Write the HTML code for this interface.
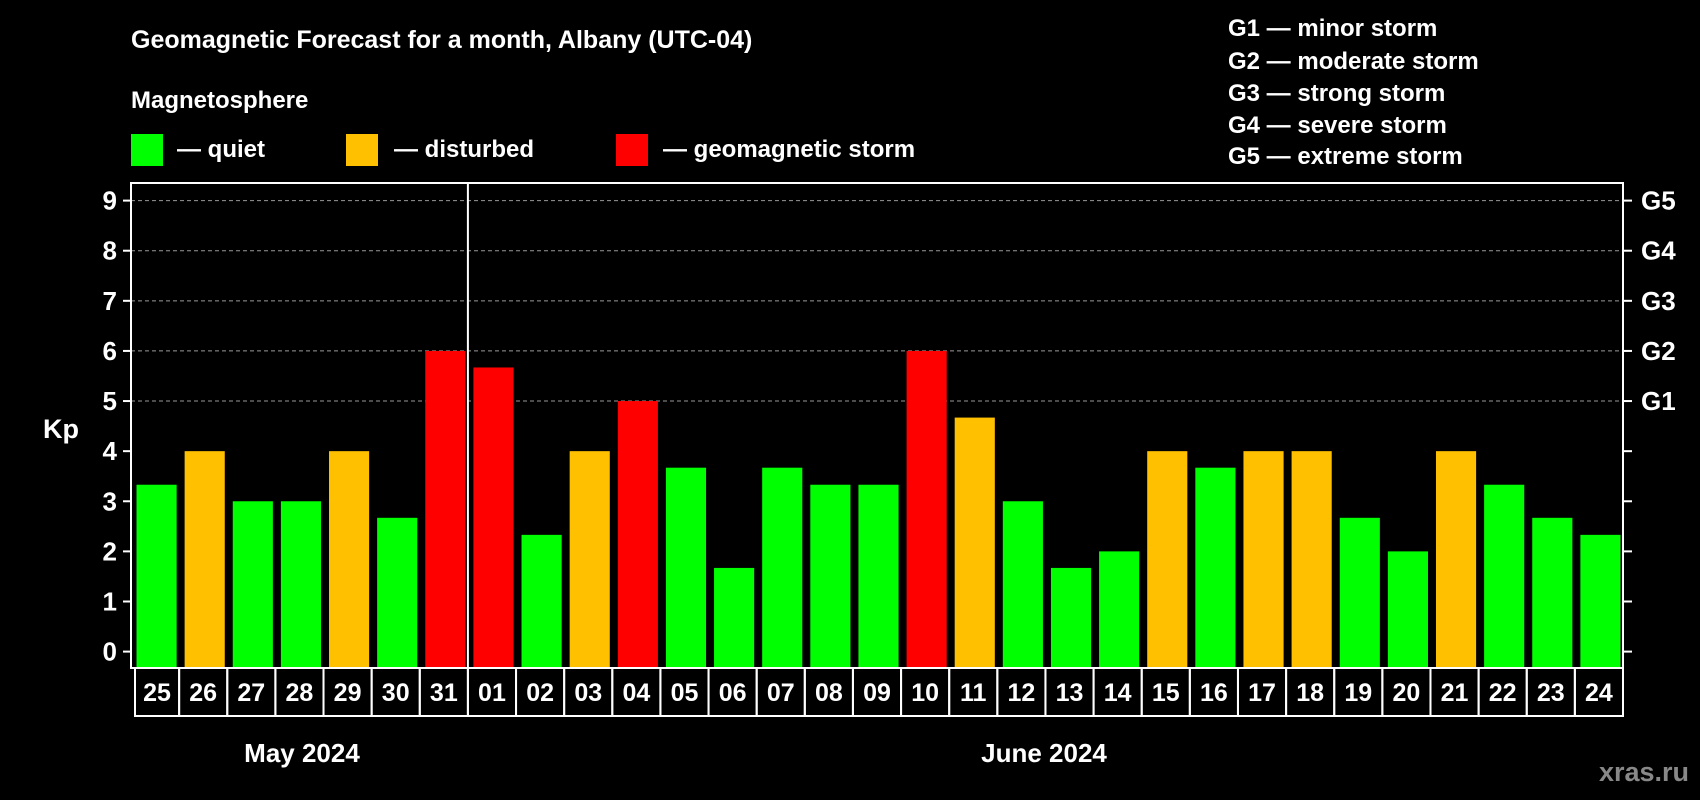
<!DOCTYPE html>
<html><head><meta charset="utf-8"><style>
html,body{margin:0;padding:0;background:#000;}
svg{display:block;font-family:"Liberation Sans",Arial,sans-serif;font-weight:bold;}
</style></head><body>
<svg id="chart" width="1700" height="800" viewBox="0 0 1700 800" xmlns="http://www.w3.org/2000/svg">
<rect width="1700" height="800" fill="#000"/>
<text x="131" y="48" fill="#fff" font-size="25">Geomagnetic Forecast for a month, Albany (UTC-04)</text>
<text x="131" y="108" fill="#fff" font-size="24">Magnetosphere</text>
<rect x="131" y="134" width="32" height="32" fill="#00ff00"/>
<text x="177" y="157" fill="#fff" font-size="24">— quiet</text>
<rect x="346" y="134" width="32" height="32" fill="#ffc000"/>
<text x="394" y="157" fill="#fff" font-size="24">— disturbed</text>
<rect x="616" y="134" width="32" height="32" fill="#ff0000"/>
<text x="663" y="157" fill="#fff" font-size="24">— geomagnetic storm</text>
<g fill="#fff" font-size="24">
<text x="1228" y="36">G1 — minor storm</text>
<text x="1228" y="69">G2 — moderate storm</text>
<text x="1228" y="101">G3 — strong storm</text>
<text x="1228" y="133">G4 — severe storm</text>
<text x="1228" y="164">G5 — extreme storm</text>
</g>
<text x="43" y="438" fill="#fff" font-size="27">Kp</text>
<text x="302" y="762" fill="#fff" font-size="26" text-anchor="middle">May 2024</text>
<text x="1044" y="762" fill="#fff" font-size="26" text-anchor="middle">June 2024</text>
<text x="1689" y="781" fill="#888" font-size="27" text-anchor="end">xras.ru</text>
<g id="plot"></g>
</svg>
<script>
const days = ["25","26","27","28","29","30","31","01","02","03","04","05","06","07","08","09","10","11","12","13","14","15","16","17","18","19","20","21","22","23","24"];
const kpValues = [3.33,4,3,3,4,2.67,6,5.67,2.33,4,5,3.67,1.67,3.67,3.33,3.33,6,4.67,3,1.67,2,4,3.67,4,4,2.67,2,4,3.33,2.67,2.33];
const yTicks = [0,1,2,3,4,5,6,7,8,9];
const gLabels = ["G1","G2","G3","G4","G5"];
const gLevels = [5,6,7,8,9];
const monthBreak = 7;

const NS="http://www.w3.org/2000/svg";
const L=131,R=1623,T=183,B=668;
const slot=(R-L)/days.length;
const y=v=>651.6-(651.6-200.6)*v/9;
const x=i=>L+i*slot;
const g=document.getElementById('plot');
function mk(tag,attrs){const e=document.createElementNS(NS,tag);for(const k in attrs)e.setAttribute(k,attrs[k]);g.appendChild(e);return e;}
// gridlines
gLevels.forEach(v=>{
  const ln=mk('line',{x1:L,x2:R,y1:y(v),y2:y(v),stroke:'#999','stroke-dasharray':'4,3','stroke-width':1});
  
  
});
// bars
kpValues.forEach((v,i)=>{
  const c=v>=5?'#ff0000':(v>=4?'#ffc000':'#00ff00');
  const r=mk('rect',{x:x(i)+5.5,y:y(v),width:slot-8,height:B-y(v),fill:c});
  
  
});
// frame
const fr=mk('rect',{x:L,y:T,width:R-L,height:B-T,fill:'none',stroke:'#fff','stroke-width':2});


const dv=mk('line',{x1:x(monthBreak),x2:x(monthBreak),y1:T,y2:B,stroke:'#fff','stroke-width':2});


// y ticks
yTicks.forEach(v=>{
  const t1=mk('line',{x1:L-8,x2:L,y1:y(v),y2:y(v),stroke:'#fff','stroke-width':2});
  
  
  const t2=mk('line',{x1:R,x2:R+9,y1:y(v),y2:y(v),stroke:'#fff','stroke-width':2});
  
  
  const tx=mk('text',{x:L-14,y:y(v)+9,fill:'#fff','font-size':26,'text-anchor':'end'});
  tx.textContent=v;
  
  
});
gLabels.forEach((s,i)=>{
  const tx=mk('text',{x:R+18,y:y(gLevels[i])+9,fill:'#fff','font-size':26});
  tx.textContent=s;
  
  
});
// day labels
days.forEach((d,i)=>{
  const bx=mk('rect',{x:x(i)+(i===0?4:0),y:B,width:slot-(i===0?4:0),height:48,fill:'none',stroke:'#fff','stroke-width':2});
  
  
  const tx=mk('text',{x:x(i)+slot/2+(i===0?2:0),y:B+33,fill:'#fff','font-size':25,'text-anchor':'middle'});
  tx.textContent=d;
  
  
});
</script>
</body></html>
